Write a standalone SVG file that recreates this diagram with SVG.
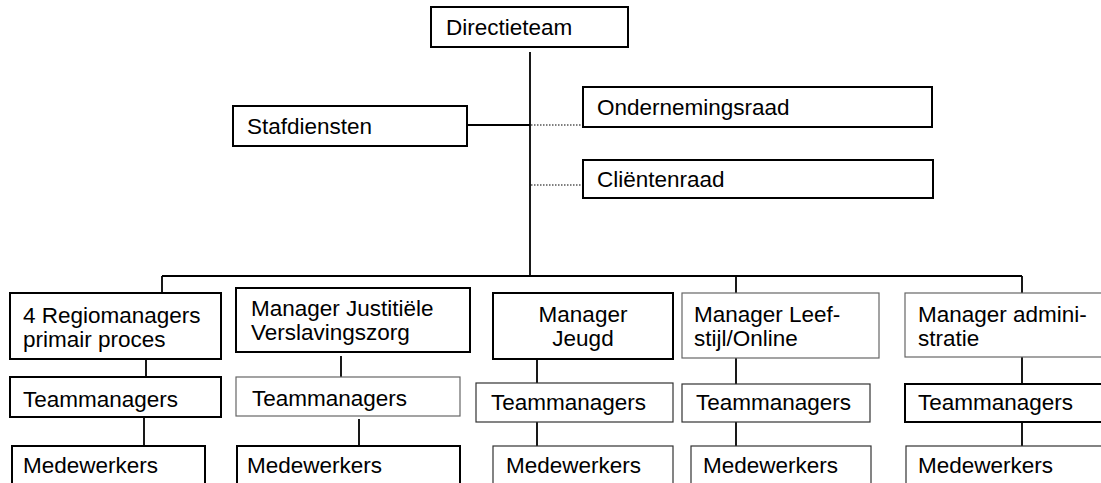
<svg xmlns="http://www.w3.org/2000/svg" width="1101" height="483" viewBox="0 0 1101 483">
<style>
.b{fill:#fff;stroke:#000;stroke-width:2}
.t{fill:#fff;stroke:#333;stroke-width:1.2}
.g{fill:#fff;stroke:#666;stroke-width:1.2}
text{font-family:"Liberation Sans",Arial,sans-serif;font-size:22.5px;fill:#000}
.c{stroke:#000;stroke-width:1.8;fill:none}
.d{stroke:#000;stroke-width:1.2;stroke-dasharray:1.5 1.5;fill:none}
</style>
<rect width="1101" height="483" fill="#fff"/>
<g id="connectors">
<path class="c" d="M530 52V276M162 276H1022M162 276V293M736 276V293M1022 276V293M467 125H530"/>
<path class="d" d="M531 125H583M531 185H583"/>
<path class="c" d="M146 356V377M144 417V446M341 356V377M359 419V446M537 356V383M537 422V451M736 356V384M736 419V446M1022 356V384M1022 419V446"/>
</g>
<g id="directieteam"><rect class="b" x="431" y="7" width="197" height="40"/><text x="446" y="35">Directieteam</text></g>
<g id="stafdiensten"><rect class="b" x="233" y="106" width="234" height="40"/><text x="247" y="134">Stafdiensten</text></g>
<g id="ondernemingsraad"><rect class="b" x="583" y="87" width="349" height="40"/><text x="597" y="115">Ondernemingsraad</text></g>
<g id="clientenraad"><rect class="b" x="583" y="160" width="350" height="38"/><text x="597" y="187">Cliëntenraad</text></g>
<g id="regiomanagers"><rect class="b" x="10" y="293" width="211" height="66"/><text x="23" y="323">4 Regiomanagers</text><text x="23" y="347">primair proces</text></g>
<g id="justitiele"><rect class="b" x="236" y="288" width="234" height="64"/><text x="251" y="316">Manager Justitiële</text><text x="251" y="340">Verslavingszorg</text></g>
<g id="jeugd"><rect class="b" x="493" y="293" width="180" height="66"/><text x="583" y="322" text-anchor="middle">Manager</text><text x="583" y="346" text-anchor="middle">Jeugd</text></g>
<g id="leefstijl"><rect class="g" x="682" y="293" width="197" height="65"/><text x="694" y="322">Manager Leef-</text><text x="694" y="346">stijl/Online</text></g>
<g id="administratie"><rect class="g" x="905" y="293" width="210" height="64"/><text x="918" y="322">Manager admini-</text><text x="918" y="346">stratie</text></g>
<g id="team1"><rect class="b" x="10" y="377" width="211" height="40"/><text x="23" y="407">Teammanagers</text></g>
<g id="team2"><rect class="g" x="236" y="377" width="224" height="39"/><text x="252" y="406">Teammanagers</text></g>
<g id="team3"><rect class="t" x="476" y="383" width="197" height="39"/><text x="491" y="410">Teammanagers</text></g>
<g id="team4"><rect class="t" x="682" y="384" width="188" height="38"/><text x="696" y="410">Teammanagers</text></g>
<g id="team5"><rect class="b" x="905" y="384" width="210" height="38"/><text x="918" y="410">Teammanagers</text></g>
<g id="mede1"><rect class="b" x="12" y="446" width="193" height="50"/><text x="23" y="473">Medewerkers</text></g>
<g id="mede2"><rect class="b" x="237" y="446" width="223" height="50"/><text x="247" y="473">Medewerkers</text></g>
<g id="mede3"><rect class="t" x="493" y="446" width="180" height="50"/><text x="506" y="473">Medewerkers</text></g>
<g id="mede4"><rect class="t" x="691" y="446" width="180" height="50"/><text x="703" y="473">Medewerkers</text></g>
<g id="mede5"><rect class="t" x="906" y="446" width="210" height="50"/><text x="918" y="473">Medewerkers</text></g>
</svg>
